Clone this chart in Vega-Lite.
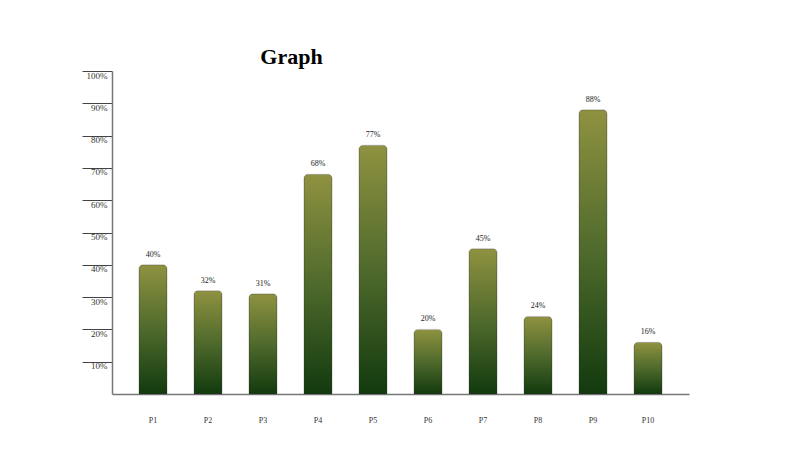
{
  "$schema": "https://vega.github.io/schema/vega-lite/v6.json",
  "width": 577,
  "height": 323,
  "autosize": {"type": "none"},
  "padding": {"left": 112, "top": 71, "right": 111, "bottom": 56},
  "background": "white",
  "title": {
    "text": "Graph",
    "font": "Liberation Serif",
    "fontSize": 22,
    "fontWeight": "bold",
    "color": "#000000",
    "anchor": "middle",
    "dx": -109,
    "dy": 24,
    "offset": 4,
    "baseline": "bottom"
  },
  "data": {
    "values": [
      {"name": "P1", "value": 0.40},
      {"name": "P2", "value": 0.32},
      {"name": "P3", "value": 0.31},
      {"name": "P4", "value": 0.68},
      {"name": "P5", "value": 0.77},
      {"name": "P6", "value": 0.20},
      {"name": "P7", "value": 0.45},
      {"name": "P8", "value": 0.24},
      {"name": "P9", "value": 0.88},
      {"name": "P10", "value": 0.16}
    ]
  },
  "encoding": {
    "x": {
      "field": "name",
      "type": "nominal",
      "sort": null,
      "scale": {"paddingInner": 0.49, "paddingOuter": 0.49},
      "axis": {
        "title": null,
        "labelAngle": 0,
        "ticks": false,
        "tickSize": 0,
        "labelPadding": 22,
        "labelFontSize": 8,
        "labelColor": "#333333",
        "domainColor": "#777777",
        "domainWidth": 1.5
      }
    },
    "y": {
      "field": "value",
      "type": "quantitative",
      "scale": {"domain": [0, 1], "nice": false},
      "axis": {
        "title": null,
        "values": [0.1, 0.2, 0.3, 0.4, 0.5, 0.6, 0.7, 0.8, 0.9, 1.0],
        "format": ".0%",
        "grid": false,
        "tickSize": 30,
        "tickColor": "#444444",
        "tickWidth": 1,
        "labelPadding": -25,
        "labelAlign": "right",
        "labelBaseline": "top",
        "labelOffset": 0,
        "labelFontSize": 9,
        "labelColor": "#333333",
        "domainColor": "#777777",
        "domainWidth": 1.5
      }
    }
  },
  "layer": [
    {
      "mark": {
        "type": "bar",
        "cornerRadiusTopLeft": 4,
        "cornerRadiusTopRight": 4,
        "stroke": "#333333",
        "strokeOpacity": 0.25,
        "strokeWidth": 1,
        "fill": {
          "gradient": "linear",
          "x1": 0, "y1": 0, "x2": 0, "y2": 1,
          "stops": [
            {"offset": 0, "color": "#8f9240"},
            {"offset": 0.5, "color": "#4f6a2c"},
            {"offset": 1, "color": "#123a0e"}
          ]
        }
      }
    },
    {
      "mark": {
        "type": "text",
        "baseline": "middle",
        "dy": -10,
        "fontSize": 8,
        "font": "Liberation Serif",
        "color": "#222222"
      },
      "encoding": {
        "text": {"field": "value", "type": "quantitative", "format": ".0%"}
      }
    }
  ],
  "config": {
    "view": {"stroke": null},
    "axis": {"labelFont": "Liberation Serif"}
  }
}
